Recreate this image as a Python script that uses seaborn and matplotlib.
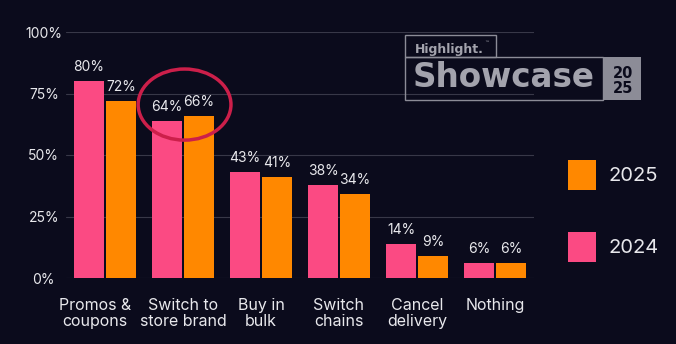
import matplotlib
matplotlib.use("Agg")
import matplotlib.pyplot as plt
import matplotlib.transforms as mtransforms
import seaborn as sns
import pandas as pd
from matplotlib.patches import Ellipse, Rectangle, Patch

categories = ["Promos &\ncoupons", "Switch to\nstore brand", "Buy in\nbulk", "Switch\nchains", "Cancel\ndelivery", "Nothing"]
values_2024 = [80, 64, 43, 38, 14, 6]
values_2025 = [72, 66, 41, 34, 9, 6]
years = ["2024", "2025"]
yticks = [0, 25, 50, 75, 100]

BG = "#0b0b1c"
PINK = "#fb4a83"
ORANGE = "#ff8800"
TXT = "#e8e8ec"

df = pd.DataFrame({
    "category": categories * 2,
    "value": values_2024 + values_2025,
    "year": [years[0]] * len(categories) + [years[1]] * len(categories),
})

sns.set_theme(style="dark")
plt.rcParams['font.family'] = ['Inter', 'DejaVu Sans']

fig = plt.figure(figsize=(6.76, 3.44), dpi=100, facecolor=BG)
ax = fig.add_axes([66/676, 1-278/344, (534-66)/676, (278-32)/344])
ax.set_facecolor(BG)

sns.barplot(data=df, x="category", y="value", hue="year", hue_order=years,
            palette=[PINK, ORANGE], saturation=1, width=0.82, gap=0.08, ax=ax,
            edgecolor="none", linewidth=0, legend=False)

for cont in ax.containers:
    ax.bar_label(cont, labels=[f"{int(v)}%" for v in cont.datavalues],
                 padding=5, color=TXT, fontsize=10)

ax.set_xlim(-0.5, 5.5)
ax.set_ylim(0, 100)
ax.set_yticks(yticks)
ax.set_yticklabels([f"{t}%" for t in yticks], color=TXT, fontsize=10, ha="center")
ax.tick_params(axis="y", length=0, pad=16)
ax.tick_params(axis="x", length=0, pad=14.5, labelsize=11.5, colors=TXT)
ax.set_xlabel("")
ax.set_ylabel("")
for s in ax.spines.values():
    s.set_visible(False)
ax.yaxis.grid(True, color="#383848", linewidth=0.8)
ax.xaxis.grid(False)
ax.set_axisbelow(True)
xlabels = ax.get_xticklabels()
for lbl in xlabels:
    lbl.set_linespacing(1.1)
xlabels[0].set_transform(xlabels[0].get_transform() +
                         mtransforms.ScaledTranslation(-0.10, 0, fig.dpi_scale_trans))

# red ellipse highlight
ell = Ellipse((1.02, 70.5), width=1.19, height=28.9, fill=False,
              edgecolor="#cc1f4a", linewidth=2.5, clip_on=False, zorder=5)
ax.add_patch(ell)

# legend
handles = [Patch(facecolor=ORANGE, edgecolor="none", label="2025"),
           Patch(facecolor=PINK, edgecolor="none", label="2024")]
leg = fig.legend(handles=handles, loc="center left",
                 bbox_to_anchor=(558/676, 1-211/344), frameon=False,
                 fontsize=14.5, handlelength=1.4, handleheight=1.9,
                 labelspacing=2.1, handletextpad=0.6, borderpad=0)
for t in leg.get_texts():
    t.set_color(TXT)

# logo
GRAY = "#8c8c97"
LOGO_TXT = "#a3a3ad"
W, H = 676, 344
def fx(x): return x / W
def fy(y): return 1 - y / H
fig.add_artist(Rectangle((fx(405), fy(57)), (496-405)/W, (57-35)/H, fill=False,
                         edgecolor=GRAY, linewidth=1, transform=fig.transFigure))
fig.text(fx(415), fy(52.5), "Highlight.", color=LOGO_TXT, fontsize=9,
         fontweight="bold", va="baseline", ha="left", family="DejaVu Sans")
fig.text(fx(484), fy(44), "™", color=LOGO_TXT, fontsize=3.5, va="baseline", ha="left",
         family="DejaVu Sans")
fig.add_artist(Rectangle((fx(405), fy(100)), (603-405)/W, (100-57)/H, fill=False,
                         edgecolor=GRAY, linewidth=1, transform=fig.transFigure))
fig.text(fx(413), fy(87), "Showcase", color=LOGO_TXT, fontsize=23.5,
         fontweight="bold", va="baseline", ha="left", family="DejaVu Sans")
fig.add_artist(Rectangle((fx(603), fy(100)), (641-603)/W, (100-57)/H, fill=True,
                         facecolor=GRAY, edgecolor="none", transform=fig.transFigure))
fig.text(fx(623), fy(77.5), "20", color=BG, fontsize=10.5, fontweight="bold",
         va="baseline", ha="center", family="DejaVu Sans")
fig.text(fx(623), fy(93), "25", color=BG, fontsize=10.5, fontweight="bold",
         va="baseline", ha="center", family="DejaVu Sans")

fig.savefig("out.png", dpi=100, facecolor=BG)
